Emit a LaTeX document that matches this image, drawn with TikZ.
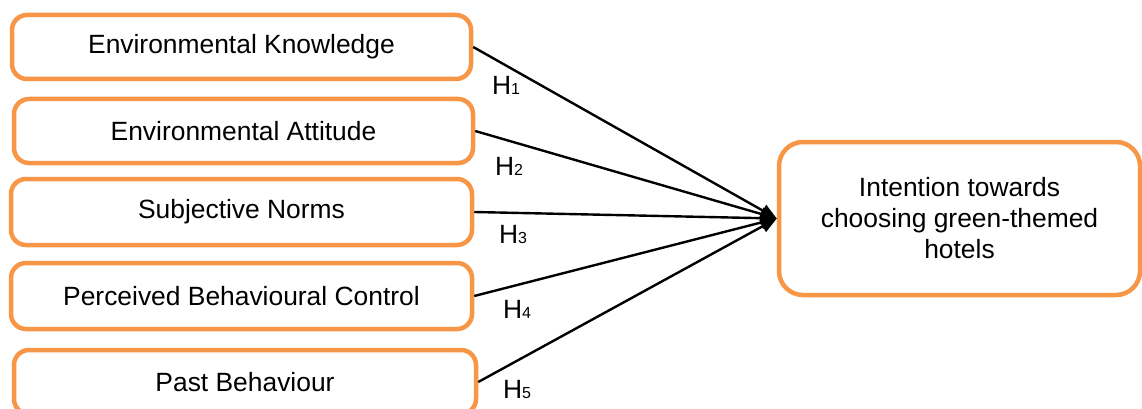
\documentclass[tikz,border=0pt]{standalone}
\usepackage{fontspec}
\setmainfont{Liberation Sans}
\usetikzlibrary{arrows.meta}
\definecolor{boxorange}{HTML}{F79646}
\tikzset{
  factor/.style={draw=boxorange, line width=4.5pt, rounded corners=15pt, fill=white,
    inner sep=0pt, minimum width=459pt, minimum height=64pt, font=\mainfs},
  goalbox/.style={draw=boxorange, line width=4.5pt, rounded corners=24pt, fill=white,
    inner sep=0pt, minimum width=361pt, minimum height=153pt, align=center, font=\mainfs},
  link/.style={line width=2.4pt, -{Triangle[length=16pt,width=13pt]}},
  hyp/.style={inner sep=0pt, font=\mainfs}
}
\newcommand{\mainfs}{\fontsize{26.4}{31}\selectfont}
\newcommand{\hsub}[1]{H{\fontsize{16}{16}\selectfont #1}}
\begin{document}
\begin{tikzpicture}[x=1pt,y=-1pt]
\useasboundingbox (0,0) rectangle (1142,409);
\fill[white] (0,0) rectangle (1142,409);
\node[factor] (b1) at (241.5,47) {Environmental Knowledge};
\node[factor] (b2) at (243.5,131) {Environmental Attitude};
\node[factor, minimum width=461pt, minimum height=66pt] (b3) at (241.5,212) {Subjective Norms};
\node[factor, minimum width=461pt, minimum height=66pt] (b4) at (241.5,296) {Perceived Behavioural Control};
\node[factor, minimum width=462pt] (b5) at (245,382) {Past Behaviour};
\node[goalbox] (goal) at (959.5,218.5) {Intention towards\\choosing green-themed\\hotels};
\foreach \i in {1,...,5} {
  \draw[link] (b\i.east) -- (goal.west);
}
\node[hyp] (h1) at (506,85) {\hsub{1}};
\node[hyp] (h2) at (509,166) {\hsub{2}};
\node[hyp] (h3) at (513,234) {\hsub{3}};
\node[hyp] (h4) at (517,309) {\hsub{4}};
\node[hyp] (h5) at (517,389) {\hsub{5}};
\end{tikzpicture}
\end{document}
